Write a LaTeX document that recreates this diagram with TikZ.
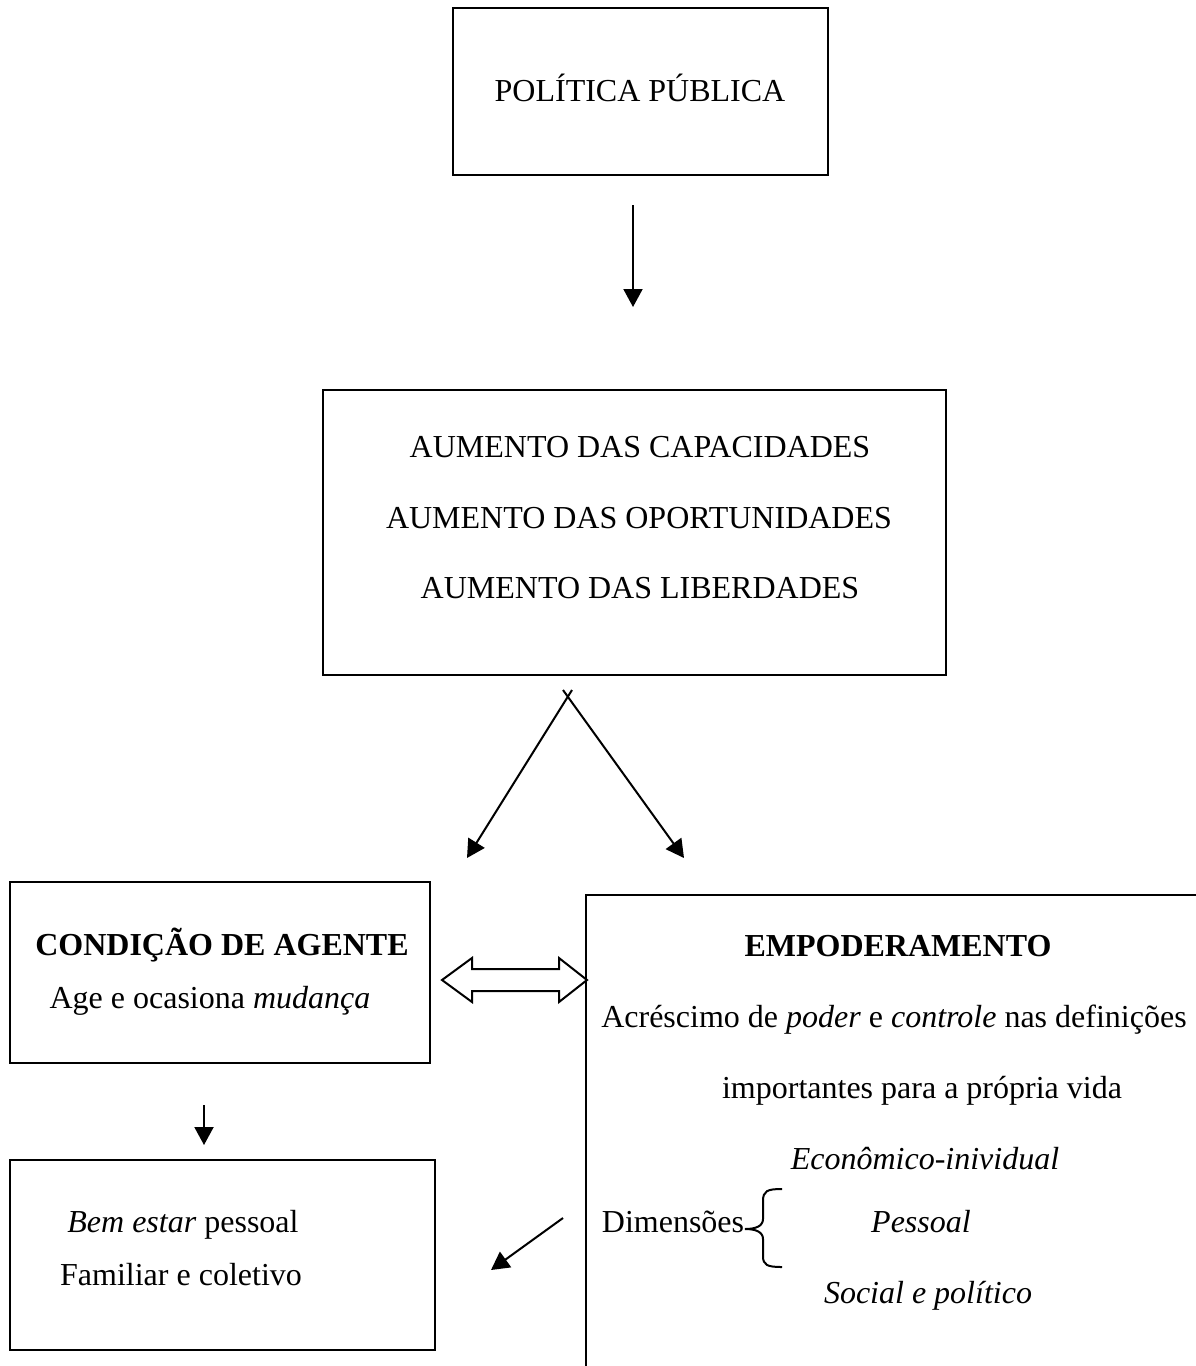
\documentclass[tikz,border=0pt]{standalone}
\usepackage{fontspec}
\setmainfont{Liberation Serif}
\usetikzlibrary{arrows.meta,calc}
\begin{document}
\begin{tikzpicture}[x=1pt,y=-1pt,
  box/.style={draw,line width=2.5pt,inner sep=0pt},
  txt/.style={font=\fontsize{32}{38}\selectfont,inner sep=0pt,anchor=base},
  arr/.style={line width=2pt,-{Triangle[length=18pt,width=19pt]}},
  ln/.style={line width=2.5pt}]
\useasboundingbox[fill=white] (0,0) rectangle (1196,1366);

% boxes
\node[box,minimum width=375pt,minimum height=167pt] (top) at (640.5,91.5) {};
\node[box,minimum width=623pt,minimum height=285pt] (mid) at (634.5,532.5) {};
\node[box,minimum width=420pt,minimum height=181pt] (agent) at (220,972.5) {};
\node[box,minimum width=425pt,minimum height=190pt] (bem) at (222.5,1255) {};
\coordinate (empTL) at (586,895);
\coordinate (empBL) at (586,1366);
\coordinate (empTR) at (1196,895);
\draw[ln] (empBL) -- (empTL) -- (empTR);

% texts
\node[txt] (t1) at (640,101) {POLÍTICA PÚBLICA};
\node[txt] (t2) at (640,457) {AUMENTO DAS CAPACIDADES};
\node[txt] (t3) at (639,528) {AUMENTO DAS OPORTUNIDADES};
\node[txt] (t4) at (640,598) {AUMENTO DAS LIBERDADES};
\node[txt,font=\fontsize{32}{38}\selectfont\bfseries] (t5) at (222,955) {CONDIÇÃO DE AGENTE};
\node[txt] (t6) at (210,1008) {Age e ocasiona \textit{mudança}};
\node[txt,font=\fontsize{32}{38}\selectfont\bfseries] (t7) at (898,956) {EMPODERAMENTO};
\node[txt] (t8) at (894,1027) {Acréscimo de \textit{poder} e \textit{controle} nas definições};
\node[txt] (t9) at (922,1098) {importantes para a própria vida};
\node[txt] (t10) at (925,1169) {\textit{Econômico-inividual}};
\node[txt] (t11) at (673,1232) {Dimensões};
\node[txt] (t12) at (921,1232) {\textit{Pessoal}};
\node[txt] (t13) at (928,1303) {\textit{Social e político}};
\node[txt] (t14) at (183,1232) {\textit{Bem estar} pessoal};
\node[txt] (t15) at (181,1285) {Familiar e coletivo};

% brace
\coordinate (brT) at (782,1189);
\coordinate (brM) at (745,1229);
\coordinate (brB) at (782,1267);
\draw[line width=2pt] (brT) .. controls (767,1189) and (763,1191) .. (763,1201) -- (763,1219)
  .. controls (763,1226) and (756,1229) .. (brM)
  .. controls (756,1229) and (763,1232) .. (763,1239) -- (763,1256)
  .. controls (763,1265) and (767,1267) .. (brB);

% arrows
\coordinate (a1s) at (633,205);
\coordinate (a1e) at (633,307);
\draw[arr] (a1s) -- (a1e);
\coordinate (vls) at (572,690);
\coordinate (vle) at (467,858);
\coordinate (vrs) at (563,690);
\coordinate (vre) at (684,858);
\draw[arr] (vls) -- (vle);
\draw[arr] (vrs) -- (vre);
\coordinate (a2s) at (204,1105);
\coordinate (a2e) at (204,1145);
\draw[arr] (a2s) -- (a2e);
\coordinate (a3s) at (563,1218);
\coordinate (a3e) at (491,1270);
\draw[arr] (a3s) -- (a3e);

% double arrow
\draw[line width=2pt,line join=miter] (442,980) -- (472,958) -- (472,969) -- (559,969) -- (559,958)
  -- (587,980) -- (559,1002) -- (559,991) -- (472,991) -- (472,1002) -- cycle;
\end{tikzpicture}
\end{document}
